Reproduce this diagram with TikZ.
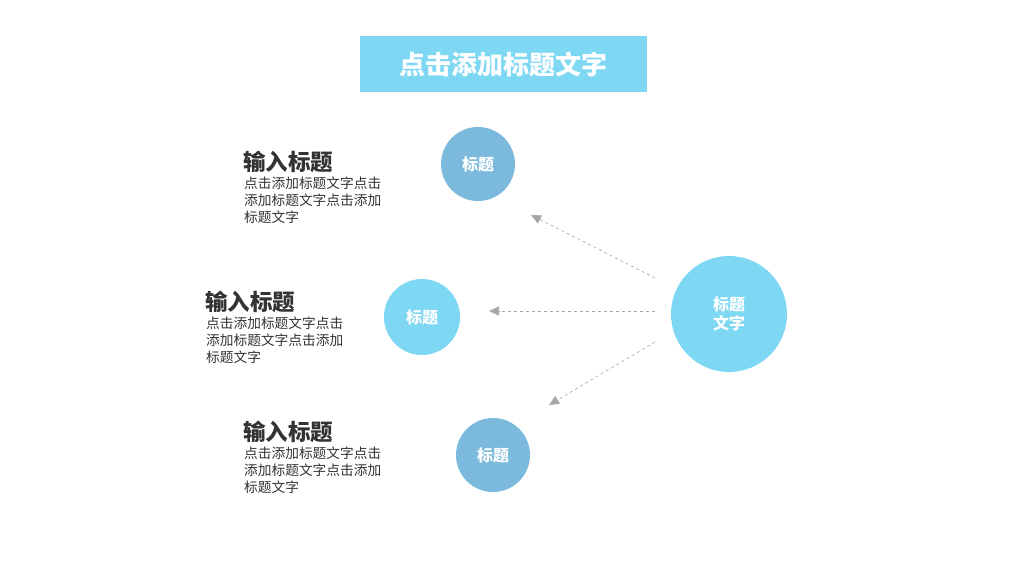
\documentclass[tikz,border=0pt]{standalone}
\usepackage{fontspec}
\newfontfamily\cjk{Noto Sans CJK SC}
\usetikzlibrary{arrows.meta}
\definecolor{cyanA}{HTML}{7FD8F3}
\definecolor{blueA}{HTML}{7BBADC}
\definecolor{txt}{HTML}{333333}
\definecolor{arr}{HTML}{A6A6A6}
\tikzset{
 circ/.style={circle,inner sep=0pt,text=white,font=\cjk\bfseries\fontsize{16}{19}\selectfont,align=center},
 head/.style={anchor=west,inner sep=0pt,font=\cjk\bfseries\fontsize{22.5}{24}\selectfont,text=txt},
 body/.style={anchor=north west,inner sep=0pt,font=\cjk\fontsize{13.7}{17}\selectfont,text=txt,align=left},
 conn/.style={draw=arr,dashed,-{Triangle[length=10pt,width=9pt]},line width=0.6pt}
}
\begin{document}
\begin{tikzpicture}[x=1pt,y=-1pt]
\useasboundingbox[fill=white] (0,0) rectangle (1024,576);
\node[fill=cyanA,minimum width=287pt,minimum height=56pt,inner sep=0pt,text=white,font=\cjk\bfseries\fontsize{26}{28}\selectfont] (title) at (503.5,64) {点击添加标题文字};
\node[circ,fill=blueA,minimum size=74pt] (c1) at (478,164) {标题};
\node[circ,fill=cyanA,minimum size=76pt] (c2) at (422,317) {标题};
\node[circ,fill=blueA,minimum size=74pt] (c3) at (493,455) {标题};
\node[circ,fill=cyanA,minimum size=116pt] (c4) at (729,314) {标题\\文字};
\coordinate (s1) at (655,278); \coordinate (e1) at (531,215);
\coordinate (s2) at (655,311); \coordinate (e2) at (489,311);
\coordinate (s3) at (655,342); \coordinate (e3) at (549,405);
\draw[conn] (s1) -- (e1);
\draw[conn] (s2) -- (e2);
\draw[conn] (s3) -- (e3);
\node[head] (h1) at (243,162) {输入标题};
\node[body] (b1) at (244,177) {点击添加标题文字点击\\添加标题文字点击添加\\标题文字};
\node[head] (h2) at (205,302) {输入标题};
\node[body] (b2) at (206,317) {点击添加标题文字点击\\添加标题文字点击添加\\标题文字};
\node[head] (h3) at (243,432) {输入标题};
\node[body] (b3) at (244,447) {点击添加标题文字点击\\添加标题文字点击添加\\标题文字};
\end{tikzpicture}
\end{document}
